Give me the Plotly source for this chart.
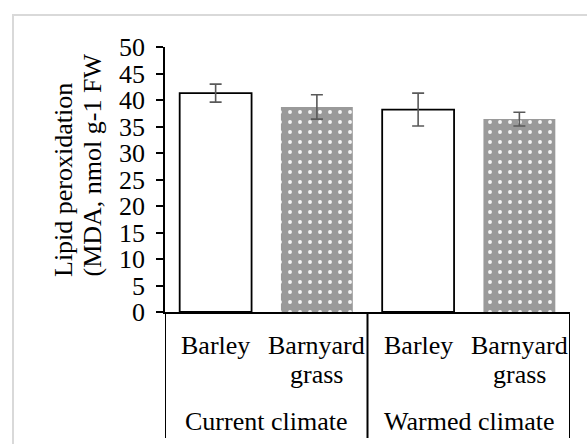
import plotly.graph_objects as go

# ---- data ----
groups = ["Current climate", "Warmed climate"]
species = ["Barley", "Barnyard<br>grass"]
values = [41.3, 38.7, 38.2, 36.4]
errors = [1.7, 2.3, 3.1, 1.3]
y_ticks = [0, 5, 10, 15, 20, 25, 30, 35, 40, 45, 50]
y_title_lines = ["Lipid peroxidation", "(MDA, nmol g-1 FW"]

FONT = "Liberation Serif, Times New Roman, serif"
FS = 26

W, H = 587, 444
L, R, T, B = 165, 17, 47, 132
PH = H - T - B


def py(ypx):
    return (H - B - ypx) / PH


def pxx(xpx):
    return (xpx - L) / (W - L - R)


n = len(groups) * len(species)
xs = list(range(n))
is_barley = [i % len(species) == 0 for i in range(n)]

fig = go.Figure()

bx = [x for x, b in zip(xs, is_barley) if b]
fig.add_trace(go.Bar(
    x=bx, y=[values[i] for i in bx],
    error_y=dict(type="data", array=[errors[i] for i in bx], color="#595959",
                 thickness=1.6, width=6),
    marker=dict(color="white", line=dict(color="black", width=1.8)),
    width=0.71, showlegend=False,
))
gx = [x for x, b in zip(xs, is_barley) if not b]
fig.add_trace(go.Bar(
    x=gx, y=[values[i] for i in gx],
    error_y=dict(type="data", array=[errors[i] for i in gx], color="#595959",
                 thickness=1.6, width=6),
    marker=dict(color="#9a9a9a", line=dict(width=0),
                pattern=dict(shape=".", fgcolor="#f4f4f4", bgcolor="#9a9a9a",
                             size=10, solidity=0.12, fillmode="replace")),
    width=0.71, showlegend=False,
))

annotations = []
# species labels (one annotation per text line, 30 px apart)
for i in range(n):
    for k, part in enumerate(species[i % len(species)].split("<br>")):
        annotations.append(dict(
            x=xs[i], y=py(345 + 29 * k), xref="x", yref="paper", text=part,
            showarrow=False, xanchor="center", yanchor="middle",
            font=dict(family=FONT, size=FS, color="black")))
# group labels
for g, name in enumerate(groups):
    cx = (xs[g * len(species)] + xs[g * len(species) + len(species) - 1]) / 2
    annotations.append(dict(
        x=cx, y=py(421), xref="x", yref="paper", text=name,
        showarrow=False, xanchor="center", yanchor="middle",
        font=dict(family=FONT, size=FS, color="black")))
# y title lines
for k, (line, xp) in enumerate(zip(y_title_lines, [63, 92])):
    annotations.append(dict(
        x=pxx(xp), y=py(279), xref="paper", yref="paper", text=line,
        showarrow=False, textangle=-90, xanchor="center", yanchor="bottom",
        font=dict(family=FONT, size=FS, color="black")))

shapes = []
# group dividers
for g in range(len(groups) + 1):
    xb = g * len(species) - 0.5
    shapes.append(dict(type="line", xref="x", yref="paper", x0=xb, x1=xb,
                       y0=0, y1=py(438), line=dict(color="black", width=2)))
# outer chart frame
shapes.append(dict(type="rect", xref="paper", yref="paper",
                   x0=pxx(13), x1=pxx(600), y0=py(15), y1=py(460),
                   line=dict(color="#d9d9d9", width=2), layer="below"))

fig.update_layout(
    template="none",
    width=W, height=H,
    margin=dict(l=L, r=R, t=T, b=B, pad=0, autoexpand=False),
    paper_bgcolor="white", plot_bgcolor="white",
    bargap=0.29,
    font=dict(family=FONT, size=FS, color="black"),
    xaxis=dict(range=[-0.5, n - 0.5], showticklabels=False, ticks="",
               showgrid=False, zeroline=False, showline=True, automargin=False,
               linecolor="black", linewidth=2),
    yaxis=dict(range=[0, 50], tickvals=y_ticks, ticks="outside", ticklen=7,
               tickwidth=1.5, tickcolor="black", showgrid=False, zeroline=False,
               showline=True, linecolor="black", linewidth=1.5, automargin=False,
               ticklabelstandoff=6,
               tickfont=dict(family=FONT, size=FS, color="black")),
    annotations=annotations, shapes=shapes,
)

fig.write_html("out.html", config={"displayModeBar": False},
               post_script="document.body.style.margin='0';document.body.style.overflow='hidden';")
